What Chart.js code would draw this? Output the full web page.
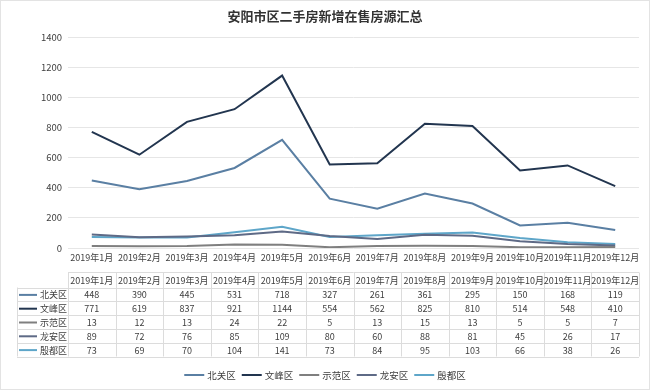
<!DOCTYPE html>
<html>
<head>
<meta charset="utf-8">
<script src="https://cdn.jsdelivr.net/npm/chart.js@4"></script>
<style>
body{margin:0;background:#fff;}
#wrap{width:650px;height:390px;position:relative;}
</style>
</head>
<body>
<div id="wrap"><canvas id="chart" width="650" height="390"></canvas></div>
<script>
// donnees
const title = '安阳市区二手房新增在售房源汇总';
const months = ['2019年1月','2019年2月','2019年3月','2019年4月','2019年5月','2019年6月','2019年7月','2019年8月','2019年9月','2019年10月','2019年11月','2019年12月'];
const beiguan = [448,390,445,531,718,327,261,361,295,150,168,119];
const wenfeng = [771,619,837,921,1144,554,562,825,810,514,548,410];
const shifan = [13,12,13,24,22,5,13,15,13,5,5,7];
const longan = [89,72,76,85,109,80,60,88,81,45,26,17];
const yindu = [73,69,70,104,141,73,84,95,103,66,38,26];
const seriesNames = ['北关区','文峰区','示范区','龙安区','殷都区'];
const yTicks = [0,200,400,600,800,1000,1200,1400];

const colors = ['#5a7fa3','#22354f','#7f7f7f','#5e6a86','#5ea6c9'];
const font = '"Noto Sans CJK SC", "Noto Sans", sans-serif';

const allData = [beiguan, wenfeng, shifan, longan, yindu];

// plugin pour titre, tableau et legende
const tablePlugin = {
	id: 'tableau',
	afterDraw(chart) {
		const ctx = chart.ctx;
		const xs = chart.scales.x;
		ctx.save();
		// cadre
		ctx.strokeStyle = '#e3e3e3';
		ctx.lineWidth = 1;
		ctx.strokeRect(0.5, 0.5, 649, 389);
		// titre
		ctx.fillStyle = '#333';
		ctx.font = 'bold 13px ' + font;
		ctx.textAlign = 'center';
		ctx.textBaseline = 'middle';
		ctx.fillText(title, 325, 16);

		const half = (xs.getPixelForValue(1) - xs.getPixelForValue(0)) / 2;
		const left = 17, colStart = xs.getPixelForValue(0) - half, right = xs.getPixelForValue(11) + half;
		const headTop = 272.5, headBottom = 287.5, rowH = 13.8;
		const bottom = headBottom + rowH * 5;
		ctx.strokeStyle = '#dcdcdc';
		ctx.beginPath();
		ctx.moveTo(colStart, headTop); ctx.lineTo(right, headTop);
		for (let r = 0; r <= 5; r++) {
			const y = Math.round(headBottom + r * rowH) + 0.5;
			ctx.moveTo(left, y); ctx.lineTo(right, y);
		}
		ctx.moveTo(left + 0.5, headBottom); ctx.lineTo(left + 0.5, bottom);
		for (let i = 0; i <= 12; i++) {
			const x = Math.round(colStart + i * half * 2) + 0.5;
			ctx.moveTo(x, headTop); ctx.lineTo(x, bottom);
		}
		ctx.stroke();

		ctx.fillStyle = '#404040';
		ctx.font = '9px ' + font;
		for (let i = 0; i < months.length; i++) {
			ctx.fillText(months[i], xs.getPixelForValue(i), (headTop + headBottom) / 2 + 0.5);
		}
		for (let s = 0; s < allData.length; s++) {
			const yc = headBottom + rowH * s + rowH / 2 + 0.5;
			ctx.strokeStyle = colors[s];
			ctx.lineWidth = 2;
			ctx.beginPath(); ctx.moveTo(19, yc); ctx.lineTo(37, yc); ctx.stroke();
			ctx.fillStyle = '#404040';
			ctx.textAlign = 'left';
			ctx.font = '9px ' + font;
			ctx.fillText(seriesNames[s], 40, yc);
			ctx.textAlign = 'center';
			for (let i = 0; i < allData[s].length; i++) {
				ctx.fillText(String(allData[s][i]), xs.getPixelForValue(i), yc);
			}
		}

		// legende
		const legY = 375;
		ctx.font = '9.5px ' + font;
		ctx.textAlign = 'left';
		let widths = seriesNames.map(n => 20 + 3 + ctx.measureText(n).width);
		let total = widths.reduce((a, b) => a + b, 0) + 6 * (seriesNames.length - 1);
		let x = 325 - total / 2;
		for (let s = 0; s < seriesNames.length; s++) {
			ctx.strokeStyle = colors[s];
			ctx.lineWidth = 2;
			ctx.beginPath(); ctx.moveTo(x, legY); ctx.lineTo(x + 20, legY); ctx.stroke();
			ctx.fillStyle = '#404040';
			ctx.fillText(seriesNames[s], x + 23, legY);
			x += widths[s] + 6;
		}
		ctx.restore();
	}
};

const datasets = [];
for (let s = 0; s < allData.length; s++) {
	datasets.push({
		label: seriesNames[s],
		data: allData[s],
		borderColor: colors[s],
		backgroundColor: colors[s],
		borderWidth: 2,
		pointRadius: 0,
		tension: 0
	});
}

new Chart(document.getElementById('chart'), {
	type: 'line',
	data: { labels: months, datasets: datasets },
	options: {
		responsive: false,
		animation: false,
		layout: { padding: { top: 37, right: 11, left: 0, bottom: 0 } },
		plugins: { legend: { display: false }, title: { display: false }, tooltip: { enabled: false } },
		scales: {
			x: {
				offset: true,
				grid: { display: false, drawTicks: false },
				border: { display: false },
				ticks: { padding: 4, maxRotation: 0, autoSkip: false, color: '#404040', font: { size: 9, family: font } },
				afterFit(scale) { scale.height = 142; }
			},
			y: {
				min: 0, max: 1400,
				afterBuildTicks(scale) { scale.ticks = yTicks.map(v => ({ value: v })); },
				grid: { color: '#e6e6e6', drawTicks: false },
				border: { display: false },
				ticks: { padding: 6, color: '#404040', font: { size: 9.5, family: font }, callback: v => String(v) },
				afterFit(scale) { scale.width = 68; }
			}
		}
	},
	plugins: [tablePlugin]
});
</script>
</body>
</html>
